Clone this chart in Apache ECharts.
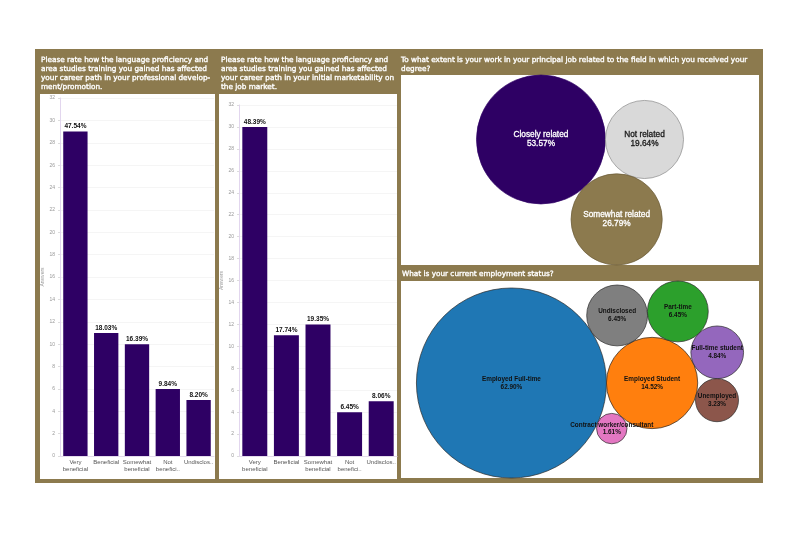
<!DOCTYPE html>
<html><head><meta charset="utf-8">
<script src="https://cdn.jsdelivr.net/npm/echarts@6/dist/echarts.min.js"></script>
<style>html,body{margin:0;padding:0;background:#fff}#c{width:800px;height:534px}</style>
</head><body><div id="c"></div><script>
// ---------- data ----------
const answerCategories = ['Very beneficial', 'Beneficial', 'Somewhat beneficial', 'Not beneficial', 'Undisclosed'];
const answerTickLabels = ['Very\nbeneficial', 'Beneficial', 'Somewhat\nbeneficial', 'Not\nbenefici..', 'Undisclos..'];
const developmentCounts = [29, 11, 10, 6, 5];
const marketabilityCounts = [30, 11, 12, 4, 5];
const answerAxisMax = 32;
const answerAxisStep = 2;

const relatedLabels = ['Closely related', 'Not related', 'Somewhat related'];
const relatedCounts = [30, 11, 15];

const statusLabels = ['Employed Full-time', 'Employed Student', 'Undisclosed', 'Part-time', 'Full-time student', 'Unemployed', 'Contract worker/consultant'];
const statusCounts = [39, 9, 4, 4, 3, 2, 1];

const titleDev = 'Please rate how the language proficiency and\narea studies training you gained has affected\nyour career path in your professional develop-\nment/promotion.';
const titleMarket = 'Please rate how the language proficiency and\narea studies training you gained has affected\nyour career path in your initial marketability on\nthe job market.';
const titleRelated = 'To what extent is your work in your principal job related to the field in which you received your\ndegree?';
const titleStatus = 'What is your current employment status?';

// ---------- styles / layout ----------
const BROWN = '#8C7A4E';
const PURPLE = '#2E0064';
const relatedFill = [PURPLE, '#D9D9D9', BROWN];
const relatedStroke = ['#2E0064', '#8a8a8a', '#6a5a36'];
const relatedText = ['#ffffff', '#1a1a1a', '#ffffff'];
const statusFill = ['#1f77b4', '#ff7f0e', '#7f7f7f', '#2ca02c', '#9467bd', '#8c564b', '#e377c2'];
// packing: [index, tangentTo, tangentTo, side]
const relatedPack = [[2, 0, 1, 1]];
const statusPack = [[2, 0, 1, -1], [3, 2, 1, -1], [4, 3, 1, -1], [5, 4, 1, -1], [6, 0, 1, 1]];

function pack(counts, steps) {
  const c = counts.map(v => ({ r: Math.sqrt(v), x: 0, y: 0 }));
  if (c.length > 1) { c[1].x = c[0].r + c[1].r; }
  steps.forEach(([k, i, j, side]) => {
    const A = c[i], B = c[j], r = c[k].r;
    const dx = B.x - A.x, dy = B.y - A.y, d = Math.hypot(dx, dy);
    const a = A.r + r, b = B.r + r;
    const t = (a * a - b * b + d * d) / (2 * d);
    const h = Math.sqrt(Math.max(0, a * a - t * t));
    const ux = dx / d, uy = dy / d;
    c[k].x = A.x + t * ux + side * h * (-uy);
    c[k].y = A.y + t * uy + side * h * ux;
  });
  return c;
}
function fit(circles, w, h) {
  let x0 = Infinity, x1 = -Infinity, y0 = Infinity, y1 = -Infinity;
  circles.forEach(c => {
    x0 = Math.min(x0, c.x - c.r); x1 = Math.max(x1, c.x + c.r);
    y0 = Math.min(y0, c.y - c.r); y1 = Math.max(y1, c.y + c.r);
  });
  const s = Math.min(w / (x1 - x0), h / (y1 - y0));
  const cx = (x0 + x1) / 2, cy = (y0 + y1) / 2;
  return { xmin: cx - w / s / 2, xmax: cx + w / s / 2, ymin: cy - h / s / 2, ymax: cy + h / s / 2 };
}

const gRel = { left: 401, top: 75, width: 358, height: 190 };
const gSta = { left: 401, top: 281, width: 358, height: 197 };
const relCircles = pack(relatedCounts, relatedPack);
const staCircles = pack(statusCounts, statusPack);
const relFit = fit(relCircles, gRel.width, gRel.height);
const staFit = fit(staCircles, gSta.width, gSta.height);

const sum = a => a.reduce((s, v) => s + v, 0);
const pct = (v, arr) => (v / sum(arr) * 100).toFixed(2) + '%';

const titleFont = { fill: '#ffffff', fontFamily: 'DejaVu Sans', fontSize: 7.3, lineHeight: 9, stroke: '#ffffff', lineWidth: 0.35 };

function barX(gi) {
  return {
    type: 'category', gridIndex: gi, data: answerCategories,
    axisLine: { show: true, lineStyle: { color: '#e4dcec', width: 1 } },
    axisTick: { show: false },
    axisLabel: { interval: 0, formatter: (v, i) => answerTickLabels[i], fontSize: 6, lineHeight: 7, color: '#555', margin: 3, fontFamily: 'Liberation Sans' }
  };
}
function barY(gi) {
  return {
    type: 'value', gridIndex: gi, min: 0, max: answerAxisMax, interval: answerAxisStep,
    name: 'Answers', nameLocation: 'middle', nameGap: 15,
    nameTextStyle: { fontSize: 5, color: '#999', fontFamily: 'Liberation Sans' },
    axisLine: { show: true, lineStyle: { color: '#e2d6ee' } },
    axisTick: { show: true, length: 2, lineStyle: { color: '#ddd' } },
    axisLabel: { fontSize: 5, color: '#999', margin: 5, fontFamily: 'Liberation Sans' },
    splitLine: { show: true, lineStyle: { color: '#f5f5f5' } }
  };
}
function barSeries(gi, counts) {
  return {
    type: 'bar', xAxisIndex: gi, yAxisIndex: gi, data: counts, barCategoryGap: '21%',
    itemStyle: { color: PURPLE },
    label: { show: true, position: 'top', distance: 1.5, formatter: p => pct(p.value, counts), fontSize: 6.5, fontWeight: 'bold', color: '#111', fontFamily: 'Liberation Sans' },
    silent: true
  };
}
function bubbleSeries(gi, circles, labels, counts, fills, strokes, texts, font) {
  return {
    type: 'custom', coordinateSystem: 'cartesian2d', xAxisIndex: gi, yAxisIndex: gi,
    data: circles.map((c, i) => [c.x, c.y, c.r, i]),
    renderItem: (params, api) => {
      const i = params.dataIndex;
      const p = api.coord([api.value(0), api.value(1)]);
      const r = api.size([api.value(2), api.value(2)])[0];
      return {
        type: 'group', children: [
          { type: 'circle', shape: { cx: p[0], cy: p[1], r: r }, style: { fill: fills[i], stroke: strokes[i], lineWidth: 0.7 } },
          { type: 'text', z2: 10, style: { text: labels[i] + '\n' + pct(counts[i], counts), x: p[0], y: p[1], align: 'center', verticalAlign: 'middle', fill: texts[i], stroke: font.stroke ? texts[i] : null, lineWidth: font.stroke || 0, fontFamily: 'Liberation Sans', fontSize: font.size, fontWeight: font.weight, lineHeight: font.lh } }
        ]
      };
    },
    silent: true
  };
}

const chart = echarts.init(document.getElementById('c'), null, { renderer: 'canvas' });
chart.setOption({
  backgroundColor: '#ffffff',
  animation: false,
  graphic: [
    { type: 'rect', z: -10, shape: { x: 35, y: 49, width: 728, height: 434 }, style: { fill: BROWN } },
    { type: 'rect', z: -9, shape: { x: 40, y: 94, width: 175, height: 385 }, style: { fill: '#fff' } },
    { type: 'rect', z: -9, shape: { x: 219, y: 94, width: 178, height: 385 }, style: { fill: '#fff' } },
    { type: 'rect', z: -9, shape: { x: 401, y: 75, width: 358, height: 190 }, style: { fill: '#fff' } },
    { type: 'rect', z: -9, shape: { x: 401, y: 281, width: 358, height: 197 }, style: { fill: '#fff' } },
    { type: 'text', z: 5, x: 41, y: 55.5, style: Object.assign({ text: titleDev }, titleFont) },
    { type: 'text', z: 5, x: 221, y: 55.5, style: Object.assign({ text: titleMarket }, titleFont) },
    { type: 'text', z: 5, x: 401, y: 55.5, style: Object.assign({ text: titleRelated }, titleFont) },
    { type: 'text', z: 5, x: 402, y: 269.5, style: Object.assign({ text: titleStatus }, titleFont) }
  ],
  grid: [
    { left: 60, top: 98, width: 154, height: 358 },
    { left: 239, top: 105, width: 158, height: 351 },
    gRel, gSta
  ],
  xAxis: [
    barX(0), barX(1),
    { type: 'value', gridIndex: 2, show: false, min: relFit.xmin, max: relFit.xmax, splitLine: { show: false } },
    { type: 'value', gridIndex: 3, show: false, min: staFit.xmin, max: staFit.xmax, splitLine: { show: false } }
  ],
  yAxis: [
    barY(0), barY(1),
    { type: 'value', gridIndex: 2, show: false, inverse: true, min: relFit.ymin, max: relFit.ymax, splitLine: { show: false } },
    { type: 'value', gridIndex: 3, show: false, inverse: true, min: staFit.ymin, max: staFit.ymax, splitLine: { show: false } }
  ],
  series: [
    barSeries(0, developmentCounts),
    barSeries(1, marketabilityCounts),
    bubbleSeries(2, relCircles, relatedLabels, relatedCounts, relatedFill, relatedStroke, relatedText, { size: 8.3, weight: 'normal', lh: 9, stroke: 0.3 }),
    bubbleSeries(3, staCircles, statusLabels, statusCounts, statusFill, statusFill.map(() => '#2a2a2a'), statusFill.map(() => '#111'), { size: 6.4, weight: 'bold', lh: 7.5 })
  ]
});
</script></body></html>
